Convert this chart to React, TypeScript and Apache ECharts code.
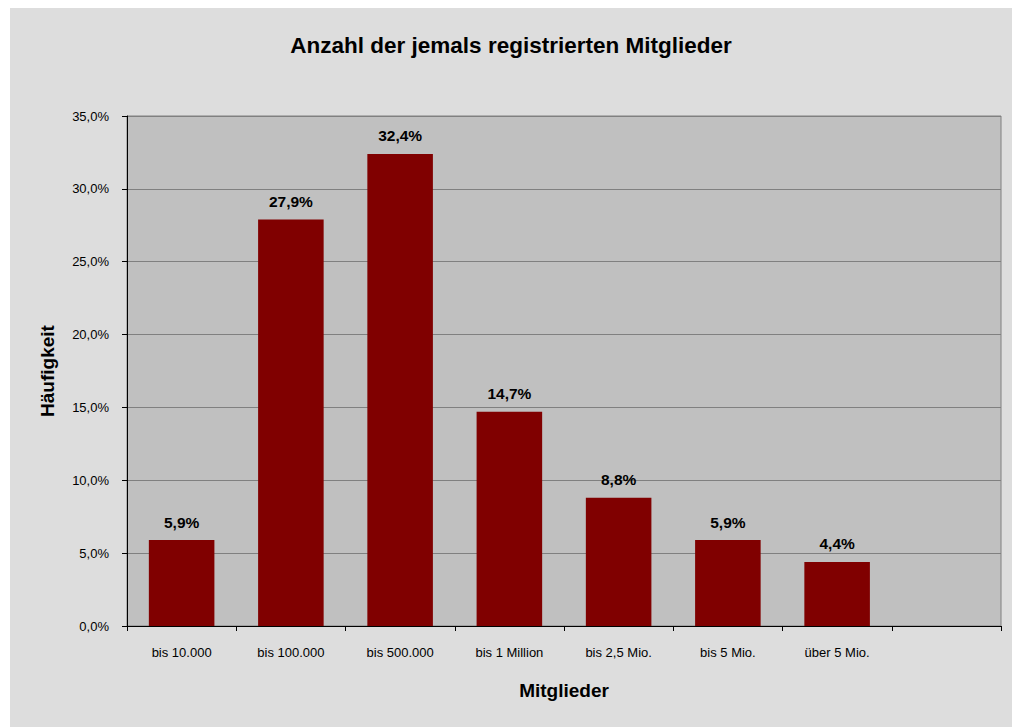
import React, { useEffect, useRef } from "react";
import * as echarts from "echarts";

const categories = ["bis 10.000", "bis 100.000", "bis 500.000", "bis 1 Million", "bis 2,5 Mio.", "bis 5 Mio.", "über 5 Mio.", ""];
const values: (number | null)[] = [5.9, 27.9, 32.4, 14.7, 8.8, 5.9, 4.4, null];
const titleText = "Anzahl der jemals registrierten Mitglieder";
const yAxisName = "Häufigkeit";
const xAxisName = "Mitglieder";

const SANS = "'Liberation Sans', Arial, Helvetica, sans-serif";
const fmt = (v: number) => v.toFixed(1).replace(".", ",") + "%";

export default function App() {
  const ref = useRef<HTMLDivElement>(null);
  useEffect(() => {
    if (!ref.current) return;
    const chart = echarts.init(ref.current, null, { renderer: "svg" });
    chart.setOption({
      animation: false,
      backgroundColor: "#DDDDDD",
      title: {
        text: titleText,
        left: "center",
        top: 21,
        textStyle: { fontFamily: SANS, fontSize: 22.5, fontWeight: "bold", color: "#000" },
      },
      grid: {
        left: 117,
        right: 11,
        top: 108,
        bottom: 101,
        show: true,
        backgroundColor: "#C0C0C0",
        borderColor: "#808080",
        borderWidth: 1,
      },
      xAxis: {
        type: "category",
        data: categories,
        name: xAxisName,
        nameLocation: "middle",
        nameGap: 55,
        nameTextStyle: { fontFamily: SANS, fontSize: 19, fontWeight: "bold", color: "#000" },
        axisLine: { lineStyle: { color: "#000", width: 1 } },
        axisTick: { show: true, length: 5, lineStyle: { color: "#000" } },
        axisLabel: { fontFamily: SANS, fontSize: 13, color: "#000", margin: 20 },
        splitLine: { show: false },
      },
      yAxis: {
        type: "value",
        min: 0,
        max: 35,
        interval: 5,
        name: yAxisName,
        nameLocation: "middle",
        nameGap: 70,
        nameTextStyle: { fontFamily: SANS, fontSize: 19, fontWeight: "bold", color: "#000" },
        axisLine: { show: true, lineStyle: { color: "#000", width: 1 } },
        axisTick: { show: true, length: 5, lineStyle: { color: "#000" } },
        axisLabel: { fontFamily: SANS, fontSize: 13, color: "#000", margin: 18, formatter: (v: number) => fmt(v) },
        splitLine: { show: true, lineStyle: { color: "#808080", width: 1 } },
      },
      series: [
        {
          type: "bar",
          data: values,
          barCategoryGap: "40%",
          itemStyle: { color: "#800000" },
          label: {
            show: true,
            position: "top",
            distance: 10,
            fontFamily: SANS,
            fontSize: 15.5,
            fontWeight: "bold",
            color: "#000",
            formatter: (p: any) => (p.value == null ? "" : fmt(p.value)),
          },
        },
      ],
    });
    return () => chart.dispose();
  }, []);
  return <div ref={ref} style={{ position: "fixed", left: 10, top: 8, width: 1002, height: 719 }} />;
}
